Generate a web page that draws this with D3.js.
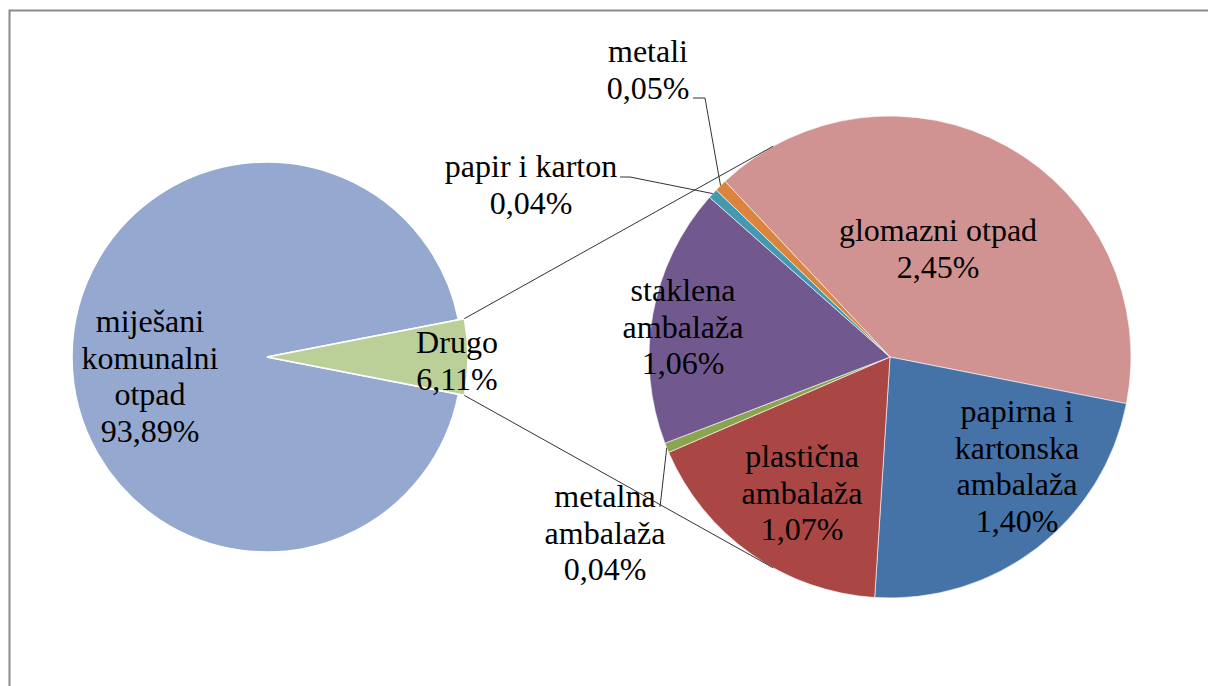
<!DOCTYPE html>
<html>
<head>
<meta charset="utf-8">
<script src="https://cdn.jsdelivr.net/npm/d3@7"></script>
<style>
  html, body { margin: 0; padding: 0; background: #fff; }
  svg { display: block; }
</style>
</head>
<body>
<script>
// main pie
const mainNames = [["miješani", "komunalni", "otpad"], ["Drugo"]];
const mainValues = [93.89, 6.11];
const mainColors = ["#95a9d0", "#bbcf98"];

// breakdown of "Drugo"
const subNames = [
  ["glomazni otpad"],
  ["papirna i", "kartonska", "ambalaža"],
  ["plastična", "ambalaža"],
  ["metalna", "ambalaža"],
  ["staklena", "ambalaža"],
  ["papir i karton"],
  ["metali"]
];
const subValues = [2.45, 1.40, 1.07, 0.04, 1.06, 0.04, 0.05];
const subColors = ["#d19392", "#4572a7", "#aa4644", "#89a54e", "#71598f", "#4299b0", "#db843d"];

// layout (label anchors: centre x, first baseline y)
const mainLabelPos = [[150, 332], [457, 353]];
const subLabelPos = [[938, 241], [1017, 422], [802, 467], [605, 507], [683, 301], [531, 177], [648, 62]];
const leaderStarts = {3: [[660, 507]], 5: [[620, 177], [630, 177]], 6: [[693, 98], [705, 98]]};
const lineGap = 36.5;

const width = 1208, height = 686;

const fmt = v => d3.format(".2f")(v).replace(".", ",") + "%";

const svg = d3.select("body").append("svg")
  .attr("width", width)
  .attr("height", height);

// chart frame
svg.append("rect")
  .attr("x", 9.5).attr("y", 10.5)
  .attr("width", 1400).attr("height", 900)
  .attr("fill", "none")
  .attr("stroke", "#8a8a8a")
  .attr("stroke-width", 2);

const main = {cx: 267, cy: 357, r: 195};
const sub = {cx: 890, cy: 357, r: 241};

const pt = (c, r, a) => [c.cx + r * Math.sin(a), c.cy - r * Math.cos(a)];

// left pie, "Drugo" centred on the right
const otherShare = mainValues[1] / d3.sum(mainValues);
const mainPie = d3.pie().sort(null)
  .startAngle(Math.PI / 2 + otherShare * Math.PI)
  .endAngle(Math.PI / 2 + otherShare * Math.PI + 2 * Math.PI);
const mainArcs = mainPie(mainValues);

const gMain = svg.append("g").attr("transform", `translate(${main.cx},${main.cy})`);
gMain.selectAll("path")
  .data(mainArcs)
  .enter()
  .append("path")
  .attr("d", (d, i) => d3.arc().innerRadius(0).outerRadius(i === 1 ? main.r + 6 : main.r)(d))
  .attr("fill", (d, i) => mainColors[i])
  .attr("stroke", "#fff")
  .attr("stroke-width", 1.5);

// right pie
const subStart = -43.2 * Math.PI / 180;
const subPie = d3.pie().sort(null)
  .startAngle(subStart)
  .endAngle(subStart + 2 * Math.PI);
const subArcs = subPie(subValues);
const subArc = d3.arc().innerRadius(0).outerRadius(sub.r);

const gSub = svg.append("g").attr("transform", `translate(${sub.cx},${sub.cy})`);
gSub.selectAll("path")
  .data(subArcs)
  .enter()
  .append("path")
  .attr("d", subArc)
  .attr("fill", (d, i) => subColors[i])
  .attr("stroke", "#fff")
  .attr("stroke-width", 0.6);

// connector lines between the pies
const drugo = mainArcs[1];
const connAngle = 61 * Math.PI / 180;
const conn = [
  [pt(main, main.r + 6, drugo.startAngle), pt(sub, sub.r, 3 * Math.PI / 2 + connAngle)],
  [pt(main, main.r + 6, drugo.endAngle), pt(sub, sub.r, 3 * Math.PI / 2 - connAngle)]
];
svg.selectAll("line.conn")
  .data(conn)
  .enter()
  .append("line")
  .attr("class", "conn")
  .attr("x1", d => d[0][0]).attr("y1", d => d[0][1])
  .attr("x2", d => d[1][0]).attr("y2", d => d[1][1])
  .attr("stroke", "#333")
  .attr("stroke-width", 1);

// leader lines for tiny slices
Object.keys(leaderStarts).forEach(k => {
  const a = subArcs[k];
  const end = pt(sub, sub.r, (a.startAngle + a.endAngle) / 2);
  const pts = leaderStarts[k].concat([end]);
  svg.append("path")
    .attr("d", d3.line()(pts))
    .attr("fill", "none")
    .attr("stroke", "#333")
    .attr("stroke-width", 1);
});

// labels
function addLabel(lines, pos) {
  const t = svg.append("text")
    .attr("text-anchor", "middle")
    .attr("font-family", "Liberation Serif, Times New Roman, serif")
    .attr("font-size", 32)
    .attr("fill", "#000")
    .attr("x", pos[0]).attr("y", pos[1]);
  lines.forEach((s, i) => {
    t.append("tspan")
      .attr("x", pos[0])
      .attr("y", pos[1] + i * lineGap)
      .text(s);
  });
}

mainValues.forEach((v, i) => addLabel(mainNames[i].concat([fmt(v)]), mainLabelPos[i]));
subValues.forEach((v, i) => addLabel(subNames[i].concat([fmt(v)]), subLabelPos[i]));
</script>
</body>
</html>
